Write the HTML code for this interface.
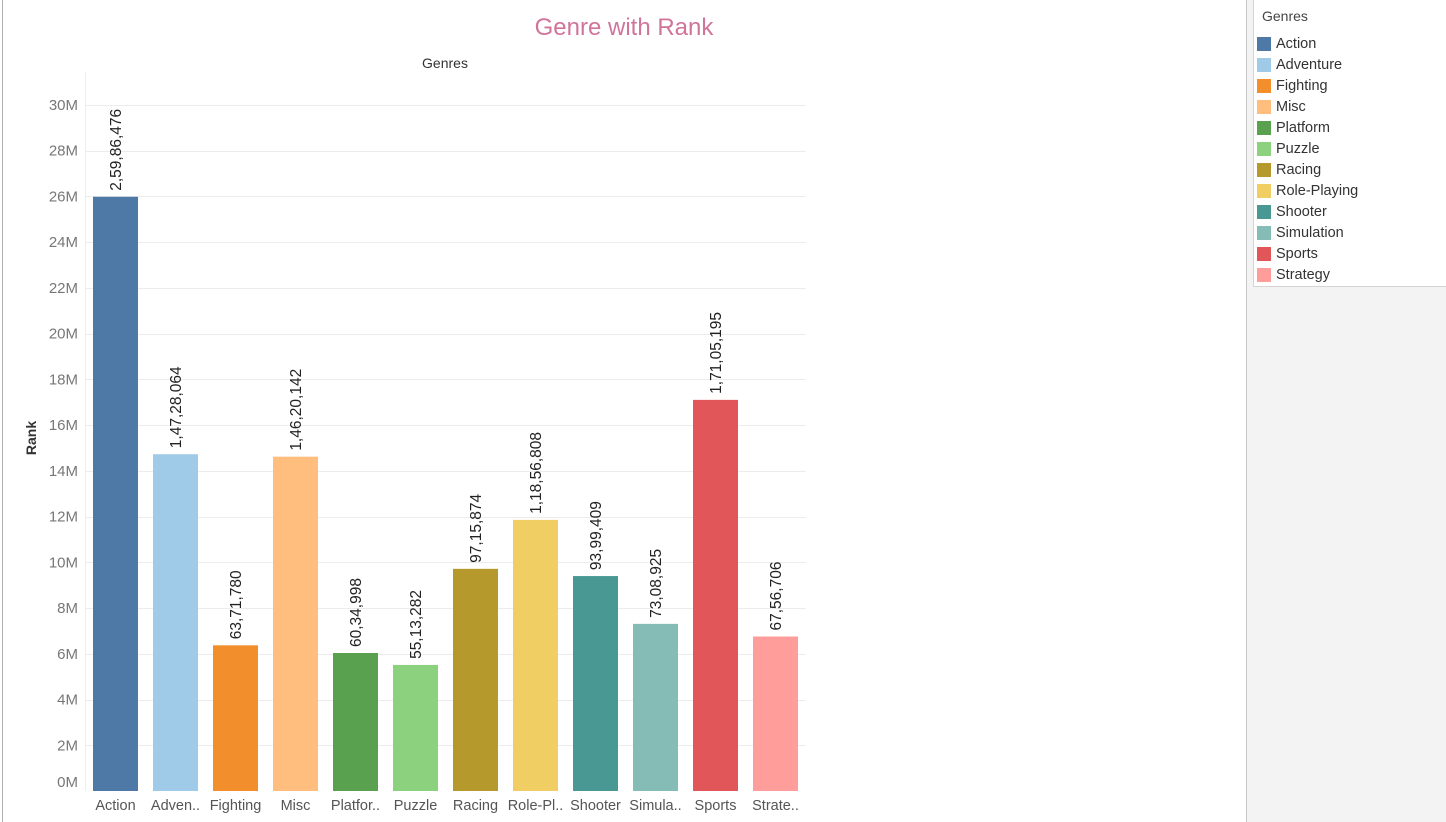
<!DOCTYPE html>
<html><head><meta charset="utf-8"><style>
body{margin:0;width:1446px;height:822px;background:#fff;font-family:"Liberation Sans",sans-serif;overflow:hidden;position:relative}
#side{position:absolute;left:1246px;top:0;width:200px;height:822px;background:#f3f3f3;border-left:1px solid #c8c8c8}
#legend{position:absolute;left:1253px;top:0;width:193px;height:286px;background:#fff;border:1px solid #d4d4d4;border-top:none;border-right:none}
.li{position:absolute;left:3px;font-size:14.5px;color:#333;height:16px;line-height:16px}
.sw{position:absolute;left:0;top:1px;width:14px;height:14px}
</style></head><body>
<div style="position:absolute;left:2px;top:0;width:1px;height:822px;background:#b0b0b0"></div>
<div id="side"></div>
<div id="legend">
 <div style="position:absolute;left:8px;top:8px;font-size:14px;color:#444">Genres</div>
</div>
<svg id="chart" width="1246" height="822" style="position:absolute;left:0;top:0">
<text x="624" y="35" text-anchor="middle" font-size="24" fill="#d0759a" font-family="Liberation Sans, sans-serif">Genre with Rank</text>
<text x="445" y="68" text-anchor="middle" font-size="14" fill="#333">Genres</text>
<text transform="translate(36,438) rotate(-90)" text-anchor="middle" font-size="14" fill="#333" font-weight="bold">Rank</text>
<line x1="85.5" y1="72" x2="85.5" y2="791" stroke="#eee"/>
</svg>
<script>
const categories=["Action","Adventure","Fighting","Misc","Platform","Puzzle","Racing","Role-Playing","Shooter","Simulation","Sports","Strategy"];
const shortLabels=["Action","Adven..","Fighting","Misc","Platfor..","Puzzle","Racing","Role-Pl..","Shooter","Simula..","Sports","Strate.."];
const values=[25986476,14728064,6371780,14620142,6034998,5513282,9715874,11856808,9399409,7308925,17105195,6756706];
const valueLabels=["2,59,86,476","1,47,28,064","63,71,780","1,46,20,142","60,34,998","55,13,282","97,15,874","1,18,56,808","93,99,409","73,08,925","1,71,05,195","67,56,706"];
const colors=["#4e79a7","#a0cbe8","#f28e2b","#ffbe7d","#59a14f","#8cd17d","#b6992d","#f1ce63","#499894","#86bcb6","#e15759","#ff9d9a"];
const yTicks=[0,2,4,6,8,10,12,14,16,18,20,22,24,26,28,30];
const NS="http://www.w3.org/2000/svg";
const svg=document.getElementById('chart');
const y0=791,pxPerM=(791-105)/30;
function yScale(v){return y0-v/1e6*pxPerM;}
function xScale(i){return 93+i*60;}
function mk(t,a){const e=document.createElementNS(NS,t);for(const k in a)e.setAttribute(k,a[k]);svg.appendChild(e);return e;}
yTicks.forEach(t=>{
 const y=yScale(t*1e6);
 if(t>0){const l=mk('line',{x1:85,x2:806,y1:Math.round(y)+0.5,y2:Math.round(y)+0.5,stroke:'#ececec'});
 
 }
 const tx=mk('text',{x:78,y:(t===0?y-4:y+5),'text-anchor':'end','font-size':15,fill:'#777'});
 tx.textContent=t+'M';
 
 
});
values.forEach((v,i)=>{
 const x=xScale(i),y=yScale(v);
 const r=mk('rect',{x:x,y:y,width:45,height:y0-y,fill:colors[i]});
 
 
 const t=mk('text',{transform:`translate(${x+28},${y-6}) rotate(-90)`,'font-size':15.5,fill:'#222'});
 t.textContent=valueLabels[i];
 
 
 const xl=mk('text',{x:x+22.5,y:810,'text-anchor':'middle','font-size':14.5,fill:'#555'});
 xl.textContent=shortLabels[i];
 
 
});
const lg=document.getElementById('legend');
categories.forEach((c,i)=>{
 const d=document.createElement('div');d.className='li';d.style.top=(36+i*21)+'px';
 d.innerHTML=`<span class="sw" style="background:${colors[i]}"></span><span style="position:absolute;left:19px;white-space:nowrap">${c}</span>`;
 
 
 lg.appendChild(d);
});
</script>
</body></html>
